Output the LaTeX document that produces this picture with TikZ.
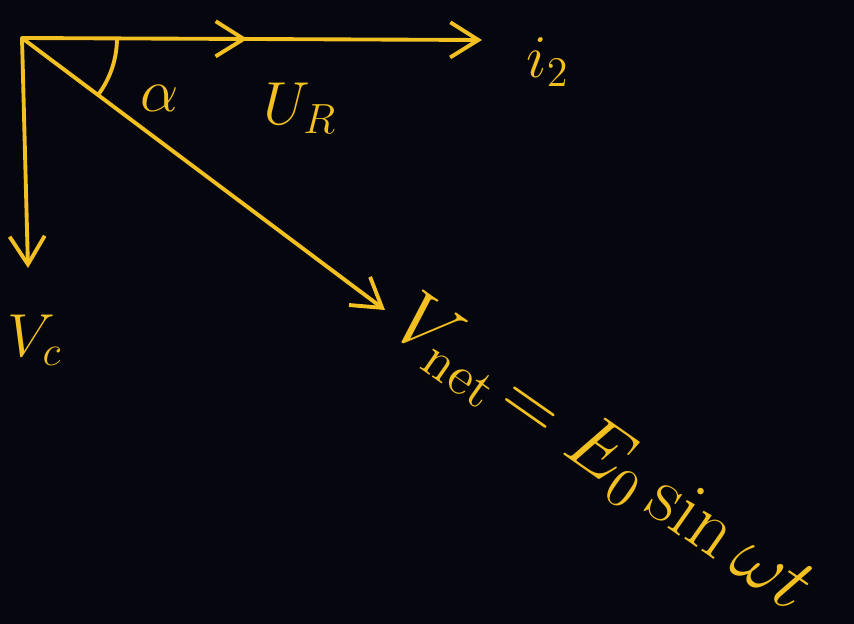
\documentclass[tikz,border=0pt]{standalone}
\usepackage{graphicx}
\usetikzlibrary{arrows.meta,decorations.markings}
\definecolor{bg}{HTML}{06060F}
\definecolor{ink}{HTML}{F2C020}
\begin{document}
\begin{tikzpicture}[x=0.01cm,y=-0.01cm,
  vec/.style={draw=ink,line width=1.1pt,line cap=round,-{Straight Barb[length=8pt,width=10pt,line width=1.1pt]}},
  lab/.style={text=ink,font=\fontsize{18}{20}\selectfont},
  midarrow/.style={postaction={decorate},decoration={markings,mark=at position 0.49 with {\arrow{Straight Barb[length=8pt,width=10pt,line width=1.1pt]}}}}]
\fill[bg] (0,0) rectangle (854,624);
\useasboundingbox (0,0) rectangle (854,624);
\coordinate (O) at (22,38);
\coordinate (I) at (482,40);
\coordinate (C) at (28,268);
\coordinate (N) at (385,310);
\draw[vec,midarrow] (O) -- (I);
\draw[vec] (O) -- (C);
\draw[vec] (O) -- (N);
\draw[ink,line width=1.1pt] (O) ++(0:95) arc[start angle=0,end angle=36.8,radius=95];
\node[lab] (al) at (160,98) {$\alpha$};
\node[lab] (ur) at (300,108) {$U_R$};
\node[lab] (i2) at (548,62) {$i_2$};
\node[lab] (vc) at (35,340) {$V_c$};
\node[lab,font=\fontsize{20}{24}\selectfont,rotate=-35,anchor=west,inner sep=0pt] (vn) at (400,314) {\scalebox{1.09}{$V_{\mathrm{net}}\! = E_0\sin\omega t$}};
\end{tikzpicture}
\end{document}
